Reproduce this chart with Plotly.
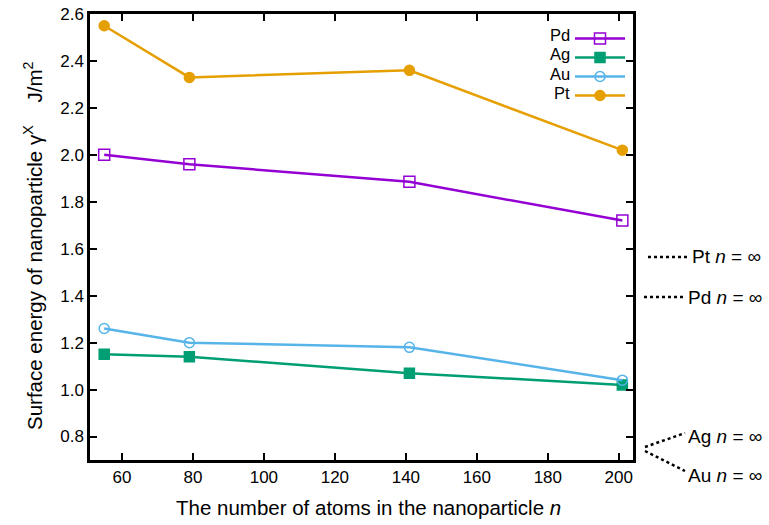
import plotly.graph_objects as go

n_atoms = [55, 79, 141, 201]
pd_vals = [2.00, 1.96, 1.885, 1.72]
ag_vals = [1.15, 1.14, 1.07, 1.02]
au_vals = [1.26, 1.20, 1.18, 1.04]
pt_vals = [2.55, 2.33, 2.36, 2.02]

y_ticks = [0.8, 1.0, 1.2, 1.4, 1.6, 1.8, 2.0, 2.2, 2.4, 2.6]
y_ticktext = ["0.8", "1.0", "1.2", "1.4", "1.6", "1.8", "2.0", "2.2", "2.4", "2.6"]
x_ticks = [60, 80, 100, 120, 140, 160, 180, 200]

series = [
    ("Pd", pd_vals, "#9400D3", "square-open", 11),
    ("Ag", ag_vals, "#009E73", "square", 10),
    ("Au", au_vals, "#56B4E9", "circle-open", 10),
    ("Pt", pt_vals, "#E69F00", "circle", 10),
]

W, H = 769, 525
OFF = 0  # body margin removed via post_script
SX0, SX1, SY0, SY1 = 90, 633, 14, 460
L = SX0 - OFF
T = SY0 - OFF
PW, PH = SX1 - SX0, SY1 - SY0
R = W - L - PW
B = H - T - PH


def px(sx):
    return (sx - SX0) / PW


def py(sy):
    return (SY1 - sy) / PH


fig = go.Figure()
for name, vals, color, sym, size in series:
    fig.add_trace(go.Scatter(
        x=n_atoms, y=vals, mode="lines+markers", name=" ",
        line=dict(color=color, width=2.5),
        marker=dict(symbol=sym, size=size, color=color,
                    line=dict(color=color, width=1.5)),
    ))

font = "Liberation Sans, Arial, sans-serif"
ann = []
leg_y = [35, 54, 74, 93]
for (name, *_), yy in zip(series, leg_y):
    ann.append(dict(xref="paper", yref="paper", x=px(572), y=py(yy),
                    text=name, showarrow=False, xanchor="right", yanchor="middle",
                    font=dict(size=16.5, color="black", family=font)))

inf_labels = [("Pt", 690, 256), ("Pd", 686, 297), ("Ag", 686, 436), ("Au", 686, 475)]
for name, xx, yy in inf_labels:
    ann.append(dict(xref="paper", yref="paper", x=px(xx), y=py(yy),
                    text=f"{name} <i>n</i> = ∞", showarrow=False,
                    xanchor="left", yanchor="middle",
                    font=dict(size=19, color="black", family=font)))

ann.append(dict(xref="paper", yref="paper", x=px(368), y=py(507),
                text="The number of atoms in the nanoparticle <i>n</i>",
                showarrow=False, xanchor="center", yanchor="middle",
                font=dict(size=20.5, color="black", family=font)))
ann.append(dict(xref="paper", yref="paper", x=px(33), y=py(246),
                text="Surface energy of nanoparticle γ<sup>X</sup>    J/m<sup>2</sup>",
                showarrow=False, xanchor="center", yanchor="middle", textangle=-90,
                font=dict(size=20.5, color="black", family=font)))

shapes = []
dot_lines = [((648, 257), (689, 257)), ((644, 297), (685, 297)),
             ((645, 447), (685, 433)), ((645, 451), (685, 471))]
for (x0, y0), (x1, y1) in dot_lines:
    shapes.append(dict(type="line", xref="paper", yref="paper",
                       x0=px(x0), y0=py(y0), x1=px(x1), y1=py(y1),
                       line=dict(color="black", width=2.5, dash="dot")))

fig.update_layout(
    width=W, height=H,
    margin=dict(l=L, r=R, t=T, b=B, autoexpand=False),
    paper_bgcolor="white", plot_bgcolor="white",
    font=dict(family=font, size=17, color="black"),
    showlegend=True,
    legend=dict(x=px(570), y=py(24), xanchor="left", yanchor="top",
                bgcolor="rgba(0,0,0,0)", font=dict(size=12),
                itemwidth=50, tracegroupgap=0),
    annotations=ann, shapes=shapes,
    xaxis=dict(range=[51, 204], tickvals=x_ticks,
               ticks="inside", ticklen=7, tickwidth=2, tickcolor="black",
               showline=True, linewidth=2.5, linecolor="black", mirror="ticks",
               showgrid=False, zeroline=False, automargin=False,
               tickfont=dict(size=17)),
    yaxis=dict(range=[0.7, 2.6001], tickvals=y_ticks, ticktext=y_ticktext,
               ticks="inside", ticklen=7, tickwidth=2, tickcolor="black",
               showline=True, linewidth=2.5, linecolor="black", mirror="ticks",
               showgrid=False, zeroline=False, automargin=False,
               ticklabeloverflow="allow", tickfont=dict(size=17)),
)

fig.write_html("out.html", config={"displayModeBar": False},
               post_script="document.body.style.margin='0';document.body.style.overflow='hidden';")
